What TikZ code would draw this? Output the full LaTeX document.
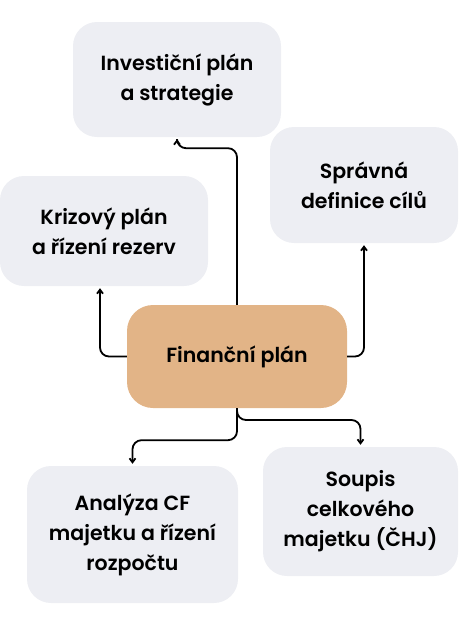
\documentclass[tikz,border=0pt]{standalone}
\usepackage{fontspec}
\setmainfont{Poppins}[UprightFont=* SemiBold]
\usetikzlibrary{arrows.meta}
\definecolor{boxgrey}{RGB}{237,238,243}
\definecolor{boxorange}{RGB}{226,180,135}
\tikzset{
  topic/.style={fill=boxgrey, rounded corners=24pt, align=center, font=\fontsize{20.5}{30}\selectfont},
  link/.style={line width=1.8pt, rounded corners=9pt, -{Straight Barb[length=4pt,width=6pt]}, shorten >=2pt}
}
\begin{document}
\begin{tikzpicture}[x=1pt, y=-1pt]
    % Canvas
    \useasboundingbox (0,0) rectangle (474,632);

    % Central node
    \node[fill=boxorange, rounded corners=26pt, minimum width=220pt, minimum height=103pt,
          font=\fontsize{20.5}{30}\selectfont] (fin) at (237,356.5) {Finanční plán};

    % Surrounding topics
    \node[topic, minimum width=208pt, minimum height=115pt] (inv) at (177,79.5) {Investiční plán\\a strategie};
    \node[topic, minimum width=188pt, minimum height=116pt] (spr) at (364,185) {Správná\\definice cílů};
    \node[topic, minimum width=208pt, minimum height=110pt] (kriz) at (104,231) {Krizový plán\\a řízení rezerv};
    \node[topic, minimum width=211pt, minimum height=137pt] (ana) at (132.5,534.5) {Analýza CF\\majetku a řízení\\rozpočtu};
    \node[topic, minimum width=195pt, minimum height=129pt] (soup) at (360.5,511.5) {Soupis\\celkového\\majetku (ČHJ)};

    % Upward links
    \draw[link] (fin.north) |- ([yshift=-11pt]inv.south) -- (inv.south);
    \draw[link] (fin.west) -| ([xshift=-4pt]kriz.south);
    \draw[link] (fin.east) -| (spr.south);

    % Downward links
    \coordinate (split) at (237,420);
    \draw[link] (fin.south) -- ++(0,32) -| (ana.north);
    \draw[link] (fin.south) |- (soup.north |- split) -- (soup.north);
\end{tikzpicture}
\end{document}
